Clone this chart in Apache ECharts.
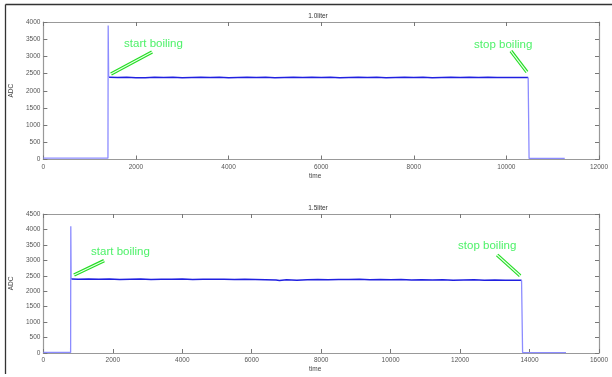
<!DOCTYPE html>
<html><head><meta charset="utf-8">
<script src="https://cdn.jsdelivr.net/npm/echarts@6/dist/echarts.min.js"></script>
<style>html,body{margin:0;padding:0;background:#fff}#c{width:612px;height:377px}</style>
</head><body><div id="c"></div>
<script>
// ---- data: 1.0 liter ----
var titles = ['1.0liter', '1.5liter'];
var xMax = [12000, 16000];
var yMax = [4000, 4500];
var pre1 = [[0, 40], [1395, 40], [1400, 3900], [1410, 2390]];
var boil1 = [[1420, 2390], [1600, 2384], [1800, 2393], [2000, 2380], [2200, 2376], [2400, 2395], [2600, 2386],
  [2800, 2392], [3000, 2381], [3200, 2389], [3400, 2394], [3600, 2383], [3800, 2390], [4000, 2378], [4200, 2388],
  [4400, 2393], [4600, 2384], [4800, 2391], [5000, 2380], [5200, 2387], [5400, 2394], [5600, 2382], [5800, 2390],
  [6000, 2386], [6200, 2392], [6400, 2379], [6600, 2388], [6800, 2393], [7000, 2384], [7200, 2390], [7400, 2381],
  [7600, 2389], [7800, 2394], [8000, 2383], [8200, 2391], [8400, 2380], [8600, 2388], [8800, 2392], [9000, 2384],
  [9200, 2390], [9400, 2387], [9600, 2393], [9800, 2382], [10000, 2389], [10200, 2385], [10470, 2386]];
var post1 = [[10470, 2386], [10490, 30], [11260, 30]];
// ---- data: 1.5 liter ----
var pre2 = [[0, 20], [785, 20], [790, 4100], [800, 2395]];
var boil2 = [[810, 2395], [1000, 2388], [1300, 2396], [1600, 2384], [1900, 2392], [2200, 2380], [2500, 2389],
  [2800, 2394], [3100, 2383], [3400, 2390], [3700, 2386], [4000, 2393], [4300, 2381], [4600, 2389], [4900, 2385],
  [5200, 2391], [5500, 2379], [5800, 2387], [6100, 2383], [6400, 2375], [6700, 2362], [6800, 2350], [7000, 2370],
  [7300, 2358], [7600, 2372], [7900, 2380], [8200, 2374], [8500, 2382], [8800, 2376], [9100, 2384], [9400, 2372],
  [9700, 2378], [10000, 2370], [10300, 2376], [10600, 2366], [10900, 2372], [11200, 2362], [11500, 2368],
  [11800, 2358], [12100, 2364], [12400, 2370], [12700, 2356], [13000, 2362], [13300, 2352], [13600, 2358], [13770, 2355]];
var post2 = [[13770, 2355], [13800, 15], [15050, 15]];
// ---- annotations [text, x, y] and arrows [[x1,y1],[x2,y2]] in data units ----
var labels1 = [['start boiling', 1743, 3360], ['stop boiling', 9303, 3340]];
var arrows1 = [[[1462, 2487], [2348, 3127]], [[10098, 3156], [10444, 2545]]];
var labels2 = [['start boiling', 1374, 3279], ['stop boiling', 11943, 3464]];
var arrows2 = [[[884, 2525], [1748, 2988]], [[13067, 3172], [13729, 2502]]];

var grids = [{left: 43, top: 22, width: 556, height: 137.5}, {left: 43, top: 214, width: 556, height: 139}];
var axisColor = '#999';
var lblStyle = {fontSize: 6.5, color: '#555', fontFamily: 'Liberation Sans', formatter: function (v) { return String(v); }};
var xAxes = [], yAxes = [];
function tick() { return {inside: true, length: 4, lineStyle: {color: '#777'}}; }
function aline() { return {onZero: false, lineStyle: {color: axisColor, width: 1.2}}; }
for (var i = 0; i < 2; i++) {
  xAxes.push({type: 'value', gridIndex: i, min: 0, max: xMax[i], interval: 2000, position: 'bottom',
    name: 'time', nameLocation: 'middle', nameGap: 13, nameTextStyle: {fontSize: 6.5, color: '#444', padding: [0, 0, 0, -12]},
    axisLine: aline(), axisTick: tick(),
    axisLabel: Object.assign({margin: 4}, lblStyle), splitLine: {show: false}});
  xAxes.push({type: 'value', gridIndex: i, min: 0, max: xMax[i], interval: 2000, position: 'top',
    axisLine: aline(), axisTick: tick(), axisLabel: {show: false}, splitLine: {show: false}});
  yAxes.push({type: 'value', gridIndex: i, min: 0, max: yMax[i], interval: 500, position: 'left',
    name: 'ADC', nameLocation: 'middle', nameGap: 21, nameRotate: 90, nameTextStyle: {fontSize: 6.5, color: '#444'},
    axisLine: aline(), axisTick: tick(),
    axisLabel: Object.assign({margin: 3}, lblStyle), splitLine: {show: false}});
  yAxes.push({type: 'value', gridIndex: i, min: 0, max: yMax[i], interval: 500, position: 'right',
    axisLine: aline(), axisTick: tick(), axisLabel: {show: false}, splitLine: {show: false}});
}
function lineSeries(data, idx, color, width) {
  return {type: 'line', xAxisIndex: idx * 2, yAxisIndex: idx * 2, data: data, showSymbol: false, symbol: 'none',
    animation: false, lineStyle: {color: color, width: width}, z: 3};
}
function arrowSeries(arrows, idx, color, width, z) {
  return {type: 'line', xAxisIndex: idx * 2, yAxisIndex: idx * 2, data: [], animation: false,
    markLine: {silent: true, symbol: 'none', animation: false, label: {show: false},
      data: arrows.map(function (a) { return [{coord: a[0]}, {coord: a[1]}]; }),
      lineStyle: {color: color, width: width, type: 'solid'}}, z: z};
}
function labelSeries(labels, idx) {
  return {type: 'scatter', xAxisIndex: idx * 2, yAxisIndex: idx * 2, animation: false, symbolSize: 0,
    data: labels.map(function (l) { return {value: [l[1], l[2]], name: l[0]}; }),
    label: {show: true, position: 'right', distance: 0, formatter: '{b}', fontSize: 11.5,
      fontFamily: 'Liberation Sans', color: '#22ee44'}, z: 6};
}
var option = {
  backgroundColor: '#fff',
  animation: false,
  title: [
    {text: titles[0], left: 318, top: 12.5, padding: 0, textAlign: 'center', textStyle: {fontSize: 6.5, fontWeight: 'normal', color: '#333'}},
    {text: titles[1], left: 318, top: 204.5, padding: 0, textAlign: 'center', textStyle: {fontSize: 6.5, fontWeight: 'normal', color: '#333'}}
  ],
  grid: grids,
  xAxis: xAxes,
  yAxis: yAxes,
  series: [
    lineSeries(pre1, 0, '#8c8cff', 1.3), lineSeries(boil1, 0, '#2020e0', 1.5), lineSeries(post1, 0, '#8c8cff', 1.3),
    lineSeries(pre2, 1, '#8c8cff', 1.3), lineSeries(boil2, 1, '#2020e0', 1.5), lineSeries(post2, 1, '#8c8cff', 1.3),
    arrowSeries(arrows1, 0, '#22dd22', 3.5, 4), arrowSeries(arrows1, 0, '#eaffea', 1.2, 5), labelSeries(labels1, 0),
    arrowSeries(arrows2, 1, '#22dd22', 3.5, 4), arrowSeries(arrows2, 1, '#eaffea', 1.2, 5), labelSeries(labels2, 1)
  ],
  graphic: [
    {type: 'line', shape: {x1: 5.5, y1: 4.5, x2: 612, y2: 4.5}, style: {stroke: '#333', lineWidth: 1.3}, silent: true},
    {type: 'line', shape: {x1: 5.5, y1: 4.5, x2: 5.5, y2: 374}, style: {stroke: '#333', lineWidth: 1.3}, silent: true}
  ]
};
var chart = echarts.init(document.getElementById('c'), null, {renderer: 'canvas'});
chart.setOption(option);
</script></body></html>
